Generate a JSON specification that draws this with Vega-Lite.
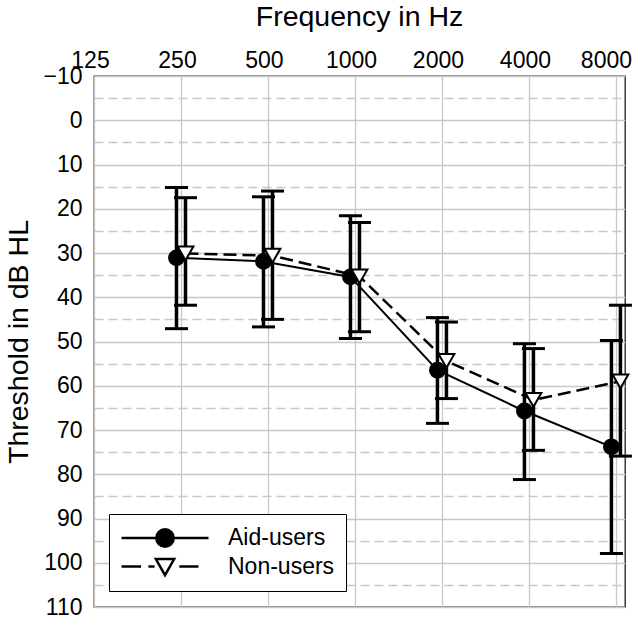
{
  "$schema": "https://vega.github.io/schema/vega-lite/v6.json",
  "width": 531,
  "height": 531,
  "autosize": "none",
  "padding": {"left": 94, "top": 76, "right": 15, "bottom": 12},
  "background": "white",
  "config": {
    "font": "Liberation Sans",
    "view": {"stroke": "#1a1a1a", "strokeWidth": 1.3}
  },
  "data": {
    "values": [
      {"group": "Aid-users", "freq": 250, "thr": 31.1, "lo": 15.2, "hi": 47.1},
      {"group": "Aid-users", "freq": 500, "thr": 31.9, "lo": 17.3, "hi": 46.7},
      {"group": "Aid-users", "freq": 1000, "thr": 35.4, "lo": 21.6, "hi": 49.3},
      {"group": "Aid-users", "freq": 2000, "thr": 56.5, "lo": 44.6, "hi": 68.5},
      {"group": "Aid-users", "freq": 4000, "thr": 65.7, "lo": 50.5, "hi": 81.2},
      {"group": "Aid-users", "freq": 8000, "thr": 73.8, "lo": 49.8, "hi": 97.9},
      {"group": "Non-users", "freq": 250, "thr": 30.1, "lo": 17.5, "hi": 41.8},
      {"group": "Non-users", "freq": 500, "thr": 30.6, "lo": 16.0, "hi": 45.0},
      {"group": "Non-users", "freq": 1000, "thr": 35.3, "lo": 23.1, "hi": 47.8},
      {"group": "Non-users", "freq": 2000, "thr": 54.4, "lo": 45.6, "hi": 62.9},
      {"group": "Non-users", "freq": 4000, "thr": 63.2, "lo": 51.6, "hi": 74.6},
      {"group": "Non-users", "freq": 8000, "thr": 59.0, "lo": 41.8, "hi": 75.9}
    ]
  },
  "encoding": {
    "x": {
      "field": "freq",
      "type": "quantitative",
      "scale": {"type": "log", "base": 2, "domain": [125, 8600], "nice": false},
      "axis": {
        "orient": "top",
        "values": [125, 250, 500, 1000, 2000, 4000, 8000],
        "format": "d",
        "title": "Frequency in Hz",
        "titleFontSize": 28.5,
        "titleFontWeight": "normal",
        "titleColor": "black",
        "titleX": 265,
        "titleY": -51,
        "titleBaseline": "alphabetic",
        "titleAlign": "center",
        "labelFontSize": 23,
        "labelColor": "black",
        "labelBaseline": "alphabetic",
        "labelPadding": 9,
        "labelOffset": {"condition": {"test": "datum.value === 8000", "value": -10}, "value": -4},
        "labelFlush": false,
        "labelOverlap": false,
        "ticks": false,
        "tickSize": 0,
        "domain": false,
        "grid": true,
        "gridColor": "#c8c8c8",
        "gridWidth": 1.3
      }
    },
    "y": {
      "field": "thr",
      "type": "quantitative",
      "scale": {"domain": [-10, 110], "reverse": true, "nice": false, "zero": false},
      "axis": {
        "values": [-10, -5, 0, 5, 10, 15, 20, 25, 30, 35, 40, 45, 50, 55, 60, 65, 70, 75, 80, 85, 90, 95, 100, 105, 110],
        "labelExpr": "datum.value % 10 === 0 ? datum.label : ''",
        "title": "Threshold in dB HL",
        "titleFontSize": 28.5,
        "titleFontWeight": "normal",
        "titleColor": "black",
        "titleX": -67,
        "titleY": 265.5,
        "titleAngle": -90,
        "titleBaseline": "alphabetic",
        "titleAlign": "center",
        "labelFontSize": 23,
        "labelColor": "black",
        "labelPadding": 12,
        "labelFlush": false,
        "labelOverlap": false,
        "ticks": false,
        "tickSize": 0,
        "domain": false,
        "grid": true,
        "gridColor": "#c8c8c8",
        "gridWidth": 1.3,
        "gridDash": {"condition": {"test": "datum.value % 10 !== 0", "value": [9, 5]}, "value": []}
      }
    }
  },
  "layer": [
    {
      "transform": [{"filter": "datum.group === 'Aid-users'"}],
      "layer": [
        {"mark": {"type": "rule", "color": "black", "strokeWidth": 3.5, "xOffset": -4.5}, "encoding": {"y": {"field": "lo", "type": "quantitative"}, "y2": {"field": "hi"}}},
        {"mark": {"type": "tick", "orient": "horizontal", "color": "black", "size": 23, "thickness": 3, "opacity": 1, "xOffset": -4.5}, "encoding": {"y": {"field": "lo", "type": "quantitative"}}},
        {"mark": {"type": "tick", "orient": "horizontal", "color": "black", "size": 23, "thickness": 3, "opacity": 1, "xOffset": -4.5}, "encoding": {"y": {"field": "hi", "type": "quantitative"}}}
      ]
    },
    {
      "transform": [{"filter": "datum.group === 'Non-users'"}],
      "layer": [
        {"mark": {"type": "rule", "color": "black", "strokeWidth": 3.5, "xOffset": 4.5}, "encoding": {"y": {"field": "lo", "type": "quantitative"}, "y2": {"field": "hi"}}},
        {"mark": {"type": "tick", "orient": "horizontal", "color": "black", "size": 23, "thickness": 3, "opacity": 1, "xOffset": 4.5}, "encoding": {"y": {"field": "lo", "type": "quantitative"}}},
        {"mark": {"type": "tick", "orient": "horizontal", "color": "black", "size": 23, "thickness": 3, "opacity": 1, "xOffset": 4.5}, "encoding": {"y": {"field": "hi", "type": "quantitative"}}}
      ]
    },
    {
      "transform": [{"filter": "datum.group === 'Aid-users'"}],
      "mark": {"type": "line", "color": "black", "strokeWidth": 2, "xOffset": -4.5},
      "encoding": {}
    },
    {
      "transform": [{"filter": "datum.group === 'Non-users'"}],
      "mark": {"type": "line", "color": "black", "strokeWidth": 2.5, "strokeDash": [13, 6], "xOffset": 4.5},
      "encoding": {}
    },
    {
      "transform": [{"filter": "datum.group === 'Aid-users'"}],
      "mark": {"type": "point", "shape": "circle", "filled": true, "fill": "black", "opacity": 1, "stroke": "black", "strokeWidth": 2, "size": 220, "xOffset": -4.5},
      "encoding": {}
    },
    {
      "transform": [{"filter": "datum.group === 'Non-users'"}],
      "mark": {"type": "point", "shape": "triangle-down", "filled": true, "fill": "white", "opacity": 1, "stroke": "black", "strokeWidth": 2, "size": 250, "xOffset": 4.5},
      "encoding": {}
    },
    {
      "transform": [{"filter": "datum.group === 'legend-only'"}],
      "mark": {"type": "point", "filled": true, "opacity": 1, "strokeWidth": 2.5},
      "encoding": {
        "shape": {
          "field": "group", "type": "nominal",
          "scale": {
            "domain": ["Aid-users", "Non-users"],
            "range": [
              "M-1,0L1,0M-0.2,0A0.2,0.2,0,1,1,0.2,0A0.2,0.2,0,1,1,-0.2,0Z",
              "M-1,0L-0.55,0M-0.38,0L-0.24,0M0.33,0L0.77,0M-0.21,-0.17L0.21,-0.17L0,0.2Z"
            ]
          },
          "legend": {
            "orient": "none", "legendX": 15, "legendY": 438,
            "title": " ", "titleOrient": "bottom", "titleFontSize": 2, "titlePadding": -2,
            "symbolSize": 7569, "symbolStrokeColor": "black", "symbolStrokeWidth": 2.5, "symbolOpacity": 1,
            "clipHeight": 26,
            "labelFontSize": 23, "labelColor": "black", "labelFont": "Liberation Sans",
            "labelOffset": 18, "padding": 11, "rowPadding": 2.5,
            "strokeColor": "black", "fillColor": "white",
            "encode": {
              "symbols": {
                "stroke": {"value": "black"},
                "strokeWidth": {"value": 2.5},
                "opacity": {"value": 1}
              }
            }
          }
        },
        "fill": {"field": "group", "type": "nominal", "scale": {"domain": ["Aid-users", "Non-users"], "range": ["black", "white"]}},
        "stroke": {"field": "group", "type": "nominal", "scale": {"domain": ["Aid-users", "Non-users"], "range": ["black", "black"]}}
      }
    }
  ]
}
